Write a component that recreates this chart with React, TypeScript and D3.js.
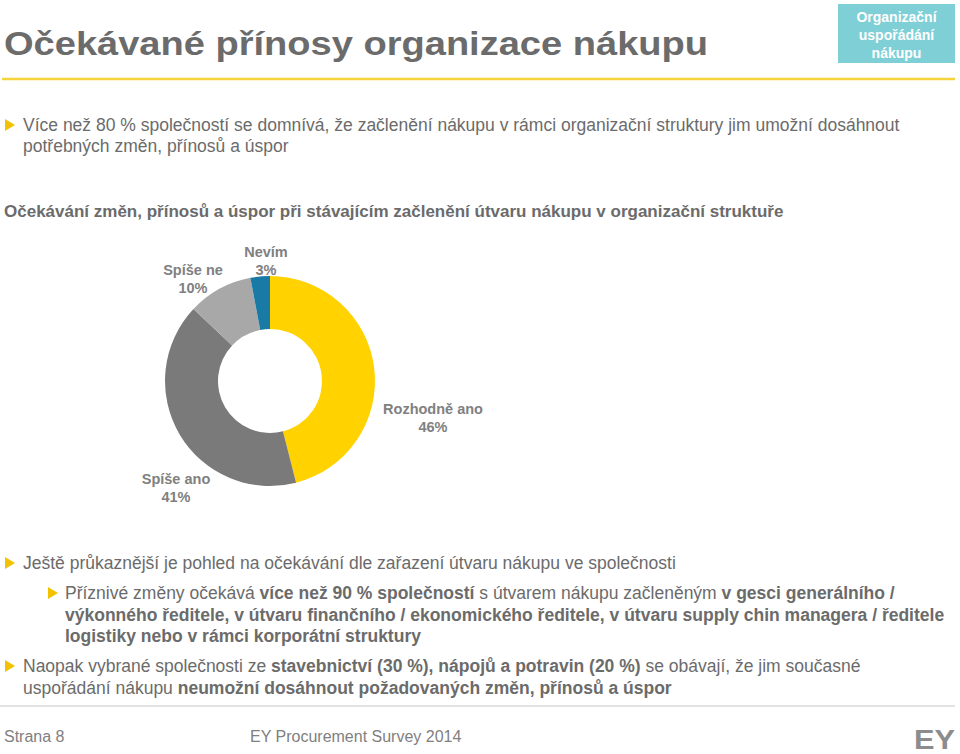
import React from "react";
import * as d3 from "d3";

const categories = ["Rozhodně ano", "Spíše ano", "Spíše ne", "Nevím"];
const values = [46, 41, 10, 3];
const sliceColors = ["#FFD200", "#7a7a7a", "#a8a8a8", "#1a7aa6"];

const title = "Očekávané přínosy organizace nákupu";
const tagLines = ["Organizační", "uspořádání", "nákupu"];
const chartTitle = "Očekávání změn, přínosů a úspor při stávajícím začlenění útvaru nákupu v organizační struktuře";

type Seg = { t: string; b?: boolean };
const bullet1: Seg[][] = [
  [{ t: "Více než 80 % společností se domnívá, že začlenění nákupu v rámci organizační struktury jim umožní dosáhnout" }],
  [{ t: "potřebných změn, přínosů a úspor" }],
];
const bullet2: Seg[][] = [[{ t: "Ještě průkaznější je pohled na očekávání dle zařazení útvaru nákupu ve společnosti" }]];
const bullet2a: Seg[][] = [
  [
    { t: "Příznivé změny očekává " },
    { t: "více než 90 % společností", b: true },
    { t: " s útvarem nákupu začleněným " },
    { t: "v gesci generálního /", b: true },
  ],
  [{ t: "výkonného ředitele, v útvaru finančního / ekonomického ředitele, v útvaru supply chin managera / ředitele", b: true }],
  [{ t: "logistiky nebo v rámci korporátní struktury", b: true }],
];
const bullet3: Seg[][] = [
  [
    { t: "Naopak vybrané společnosti ze " },
    { t: "stavebnictví (30 %), nápojů a potravin (20 %)", b: true },
    { t: " se obávají, že jim současné" },
  ],
  [{ t: "uspořádání nákupu " }, { t: "neumožní dosáhnout požadovaných změn, přínosů a úspor", b: true }],
];
const footerPage = "Strana 8";
const footerSurvey = "EY Procurement Survey 2014";

const FONT = "'Liberation Sans', Arial, sans-serif";
const TEXT = "#6b6b6b";
const LABEL = "#808080";
const BULLET = "#f2c200";

// label placement (layout, not data)
const cx = 270, cy = 381, rOuter = 105, rInner = 52;
const labelPos = [
  { dx: 163, dy: 33 },
  { dx: -94, dy: 103 },
  { dx: -77, dy: -106 },
  { dx: -4, dy: -124 },
];

function Para({ lines, x, y0, lh, size }: { lines: Seg[][]; x: number; y0: number; lh: number; size: number }) {
  return (
    <>
      {lines.map((segs, i) => (
        <text key={i} x={x} y={y0 + i * lh} fontSize={size} fill={TEXT} fontFamily={FONT}>
          {segs.map((s, j) => (
            <tspan key={j} fontWeight={s.b ? "bold" : "normal"}>
              {s.t}
            </tspan>
          ))}
        </text>
      ))}
    </>
  );
}

function Tri({ x, y }: { x: number; y: number }) {
  return <path d={`M${x},${y - 6} L${x + 10},${y} L${x},${y + 6} Z`} fill={BULLET} />;
}

export default function App() {
  const pie = d3.pie<number>().sort(null).value((d) => d)(values);
  const arc = d3.arc<d3.PieArcDatum<number>>().innerRadius(rInner).outerRadius(rOuter);

  return (
    <svg width={960} height={754} style={{ position: "absolute", left: 0, top: 0, background: "#fff" }}>
      <text x={4} y={55} fontSize={34} fontWeight="bold" fill={TEXT} fontFamily={FONT} textLength={704} lengthAdjust="spacingAndGlyphs">
        {title}
      </text>
      <rect x={838} y={4} width={117} height={59} fill="#7fcfd6" />
      {tagLines.map((t, i) => (
        <text key={i} x={896.5} y={22 + i * 18} textAnchor="middle" fontSize={14} fontWeight="bold" fill="#fff" fontFamily={FONT}>
          {t}
        </text>
      ))}
      <line x1={2} x2={955} y1={79} y2={79} stroke="#f5d33a" strokeWidth={2.5} />

      <Tri x={5} y={125} />
      <Para lines={bullet1} x={23} y0={131} lh={21} size={17.5} />

      <text x={4} y={217} fontSize={17} fontWeight="bold" fill={TEXT} fontFamily={FONT}>
        {chartTitle}
      </text>

      <g transform={`translate(${cx},${cy})`}>
        {pie.map((p, i) => (
          <path key={i} d={arc(p) || ""} fill={sliceColors[i]} />
        ))}
        {pie.map((p, i) => (
          <text key={"l" + i} x={labelPos[i].dx} y={labelPos[i].dy} textAnchor="middle" fontSize={14.5} fontWeight="bold" fill={LABEL} fontFamily={FONT}>
            <tspan x={labelPos[i].dx} dy={0}>{categories[i]}</tspan>
            <tspan x={labelPos[i].dx} dy={17.5}>{`${p.data}%`}</tspan>
          </text>
        ))}
      </g>

      <Tri x={5} y={563} />
      <Para lines={bullet2} x={23} y0={569} lh={21} size={17.5} />
      <Tri x={48} y={593} />
      <Para lines={bullet2a} x={65} y0={599} lh={21.5} size={17.5} />
      <Tri x={5} y={666} />
      <Para lines={bullet3} x={23} y0={672} lh={22} size={17.5} />

      <line x1={0} x2={955} y1={706} y2={706} stroke="#d9d9d9" strokeWidth={1.5} />
      <text x={4} y={742} fontSize={16} fill={LABEL} fontFamily={FONT}>
        {footerPage}
      </text>
      <text x={250} y={742} fontSize={16} fill={LABEL} fontFamily={FONT}>
        {footerSurvey}
      </text>
      <text x={914} y={749} fontSize={27} fontWeight="bold" fill="#8c8c8c" fontFamily={FONT} textLength={41} lengthAdjust="spacingAndGlyphs">
        EY
      </text>
    </svg>
  );
}
